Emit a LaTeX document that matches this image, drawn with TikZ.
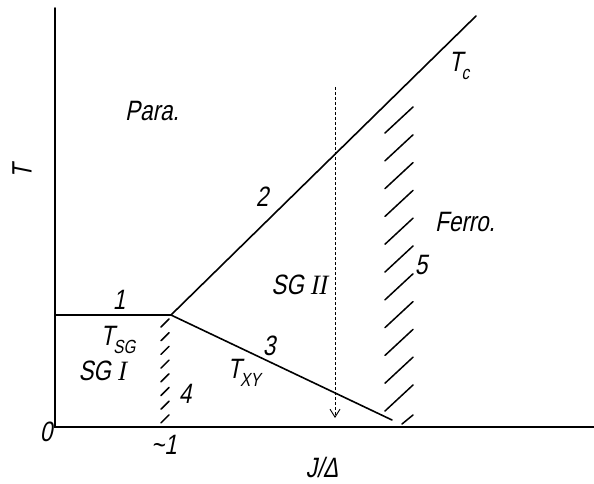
\documentclass[tikz,border=0pt]{standalone}
\usepackage{fontspec}
\setmainfont{Liberation Sans}
\newfontfamily\lf{Liberation Sans}[FakeStretch=0.8,FakeSlant=0.2]
\newfontfamily\rf{Liberation Serif}[FakeStretch=0.9,FakeSlant=0.2]
\usetikzlibrary{arrows.meta}
\newcommand\subs[1]{\raisebox{-0.55ex}{\fontsize{19}{19}\selectfont #1}}
\begin{document}
\begin{tikzpicture}[x=1pt,y=-1pt,
  lab/.style={font=\lf\fontsize{28}{28}\selectfont, inner sep=0pt},
  ln/.style={line width=1.6pt, line cap=round},
  hatchline/.style={line width=1.5pt, line cap=round},
  guide/.style={line width=0.8pt, dash pattern=on 3pt off 2pt}]
\useasboundingbox (0,0) rectangle (594,484);
% key points
\coordinate (O) at (55,427);
\coordinate (Ytop) at (55,8);
\coordinate (Xend) at (594,427);
\coordinate (L1) at (55,315);
\coordinate (J) at (171,315);
\coordinate (Tc) at (476,16);
\coordinate (L3) at (392,420);
\coordinate (Dtop) at (335,87);
\coordinate (Dtip) at (335,418);
% axes
\draw[ln] (Ytop) -- (O) -- (Xend);
% phase boundaries
\draw[ln] (L1) -- (J);
\draw[ln] (J) -- (Tc);
\draw[ln] (J) -- (L3);
% dashed path with arrow
\draw[guide, -{Straight Barb[length=8pt,width=10pt,line width=0.9pt]}] (Dtop) -- (Dtip);
% hatching 5
\foreach \i in {0,...,10}{
  \draw[hatchline] (385,133+27.8*\i) -- ++(28,-26);
}
\draw[hatchline] (402,424) -- ++(11,-9);
% hatching 4
\foreach \i in {0,...,7}{
  \draw[hatchline] (161,327+13.7*\i) -- ++(8,-8);
}
% labels
\node[lab, rotate=90] (lT) at (22,172) {T};
\node[lab] (lpara) at (152,111) {Para.};
\node[lab] (l2) at (262,197) {2};
\node[lab] (lTc) at (459,66) {T\kern-1pt\subs{c}};
\node[lab] (lsg2) at (299,285) {SG {\rf II}};
\node[lab] (lferro) at (465,222) {Ferro.};
\node[lab] (l5) at (421,265) {5};
\node[lab] (l1) at (119,300) {1};
\node[lab] (lTsg) at (118,340) {T\kern-1pt\subs{SG}};
\node[lab] (lsg1) at (102,371) {SG {\rf I}};
\node[lab] (l4) at (185,394) {4};
\node[lab] (l3) at (269,346) {3};
\node[lab] (lTxy) at (244,373) {T\kern-1pt\subs{XY}};
\node[lab] (l0) at (46,432) {0};
\node[lab] (lm1) at (164,445) {\textasciitilde 1};
\node[lab] (lJ) at (322,467) {J/Δ};
\end{tikzpicture}
\end{document}
